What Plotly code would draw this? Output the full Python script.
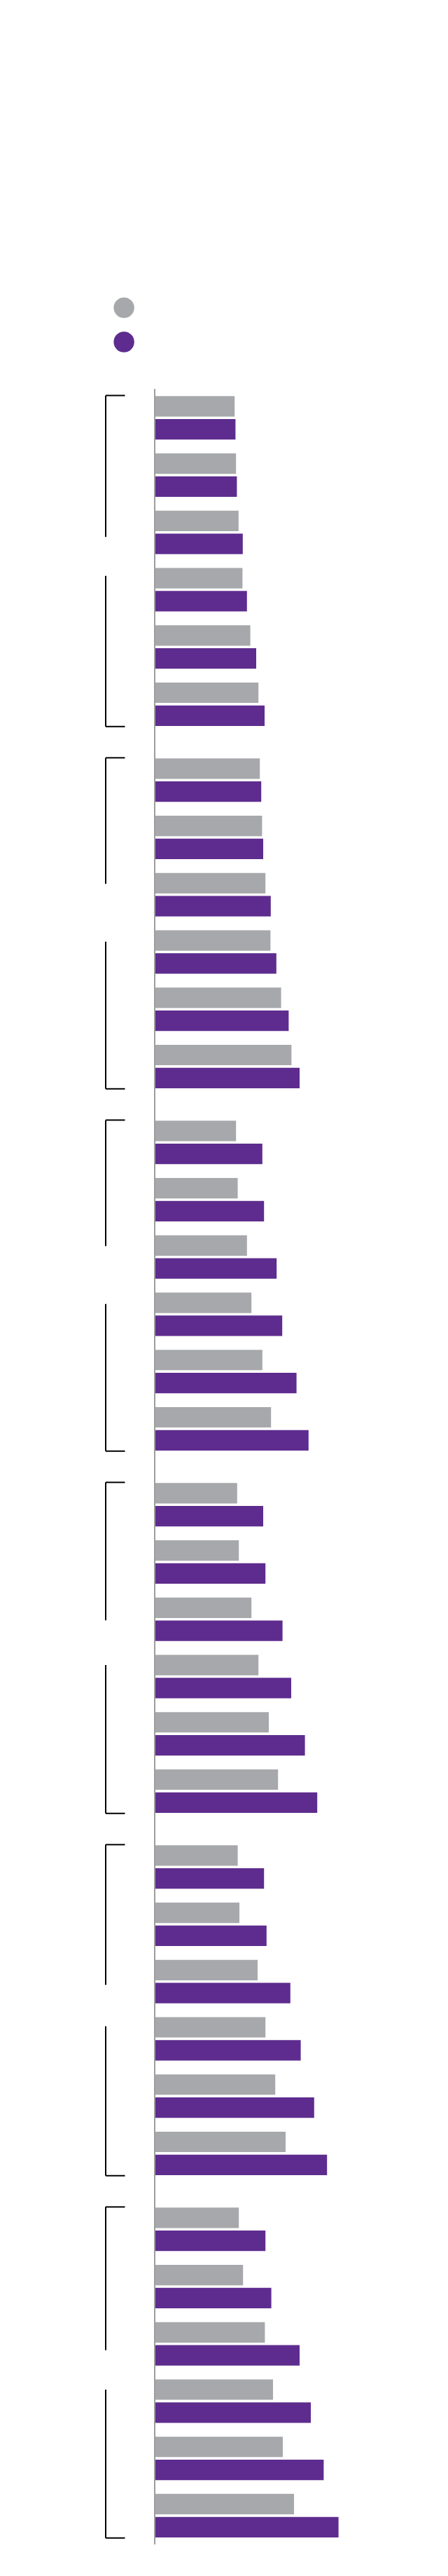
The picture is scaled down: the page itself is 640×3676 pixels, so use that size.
import plotly.graph_objects as go

# ---- data (bar lengths; 6 sections x 6 rows) ----
sections = [1, 2, 3, 4, 5, 6]
rows_per_section = 6

gray_values = [
    28.3, 28.8, 29.7, 31.1, 33.9, 36.8,
    37.3, 38.1, 39.3, 41.1, 44.9, 48.6,
    28.8, 29.4, 32.7, 34.3, 38.2, 41.3,
    29.2, 29.8, 34.3, 36.8, 40.5, 43.8,
    29.4, 30.0, 36.5, 39.3, 42.8, 46.5,
    29.8, 31.3, 39.1, 42.0, 45.5, 49.5,
]
purple_values = [
    28.6, 29.1, 31.2, 32.7, 36.0, 39.0,
    37.8, 38.5, 41.2, 43.2, 47.6, 51.5,
    38.2, 38.8, 43.3, 45.3, 50.4, 54.7,
    38.5, 39.3, 45.4, 48.5, 53.4, 57.8,
    38.8, 39.7, 48.2, 51.9, 56.7, 61.3,
    39.3, 41.4, 51.5, 55.5, 60.1, 65.4,
]

# bracket gap (where the group label would sit), in row units within each section
bracket_gap_start = [2.08, 1.81, 1.81, 2.02, 2.06, 2.11]
bracket_gap_end = [2.76, 2.82, 2.82, 2.80, 2.78, 2.80]

# ---- layout constants ----
PAGE_OFFSET = 8                 # default body margin of the html page
W, H = 640 - PAGE_OFFSET, 3676 - PAGE_OFFSET
ML, MR, MT, MB = 222 - PAGE_OFFSET, 0, 555 - PAGE_OFFSET, 45
PLOT_W = W - ML - MR
PLOT_H = H - MT - MB
SECTION_EXTRA = 0.3256          # extra gap between sections (in row units)
X_MAX = PLOT_W / 4.0
Y_TOP = -0.505
Y_BOTTOM = Y_TOP + PLOT_H / 81.73

GRAY = "#A7A8AB"
PURPLE = "#5E2C8E"

section_step = rows_per_section + SECTION_EXTRA
positions = [s * section_step + j for s in range(len(sections)) for j in range(rows_per_section)]

fig = go.Figure()
fig.add_trace(go.Bar(x=gray_values, y=positions, orientation="h",
                     marker=dict(color=GRAY, line=dict(width=0)), showlegend=False))
fig.add_trace(go.Bar(x=purple_values, y=positions, orientation="h",
                     marker=dict(color=PURPLE, line=dict(width=0)), showlegend=False))


def px_to_paper_x(px):
    return (px - PAGE_OFFSET - ML) / PLOT_W


def px_to_paper_y(py):
    return (H - MB - (py - PAGE_OFFSET)) / PLOT_H


shapes = []
bx0 = px_to_paper_x(151)
bx1 = px_to_paper_x(178.5)
half = 0.39
for s in range(len(sections)):
    top = s * section_step - half
    bot = s * section_step + rows_per_section - 1 + half
    g0 = s * section_step + bracket_gap_start[s]
    g1 = s * section_step + bracket_gap_end[s]
    line = dict(color="black", width=2)
    shapes.append(dict(type="line", xref="paper", yref="y", x0=bx1, x1=bx0, y0=top, y1=top, line=line))
    shapes.append(dict(type="line", xref="paper", yref="y", x0=bx0, x1=bx0, y0=top, y1=g0, line=line))
    shapes.append(dict(type="line", xref="paper", yref="y", x0=bx0, x1=bx0, y0=g1, y1=bot, line=line))
    shapes.append(dict(type="line", xref="paper", yref="y", x0=bx0, x1=bx1, y0=bot, y1=bot, line=line))

# legend dots
for cy, col in [(439.1, GRAY), (488.0, PURPLE)]:
    r = 14.7
    shapes.append(dict(type="circle", xref="paper", yref="paper",
                       x0=px_to_paper_x(177.1 - r), x1=px_to_paper_x(177.1 + r),
                       y0=px_to_paper_y(cy + r), y1=px_to_paper_y(cy - r),
                       fillcolor=col, line=dict(width=0)))

fig.update_layout(
    width=W, height=H,
    margin=dict(l=ML, r=MR, t=MT, b=MB, pad=0),
    paper_bgcolor="white", plot_bgcolor="white",
    barmode="group", bargap=0.197, bargroupgap=0.11,
    showlegend=False,
    shapes=shapes,
    xaxis=dict(range=[0, X_MAX], visible=False, fixedrange=True),
    yaxis=dict(range=[Y_BOTTOM, Y_TOP], showticklabels=False, ticks="",
               showgrid=False, zeroline=False, showline=True,
               linecolor="#9D9D9D", linewidth=1.5, fixedrange=True),
)

fig.write_html("out.html")
